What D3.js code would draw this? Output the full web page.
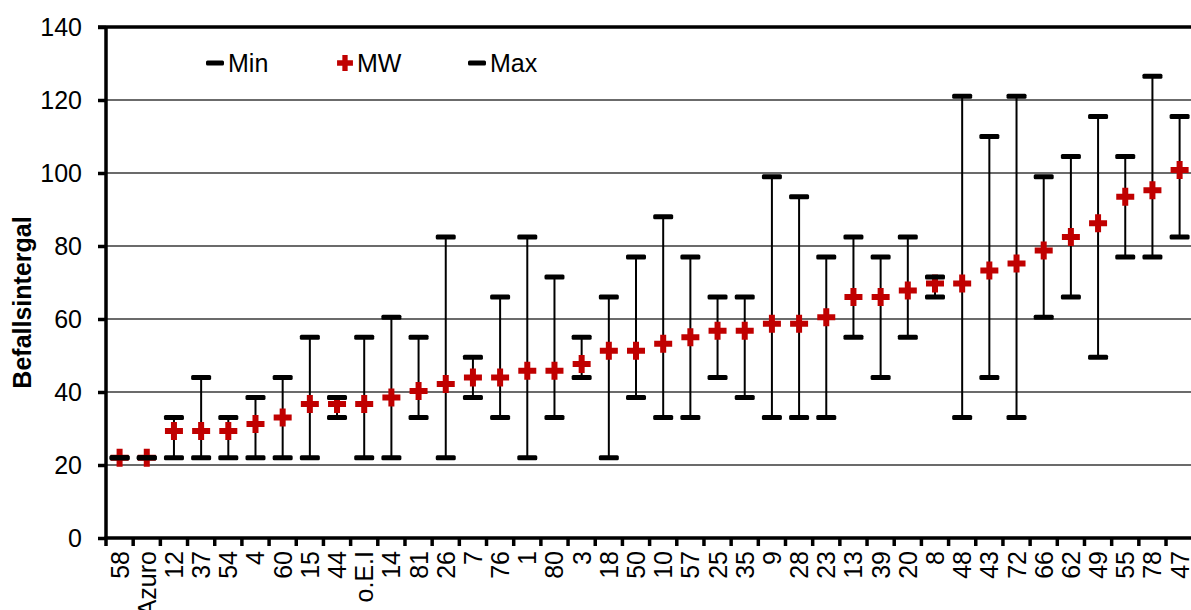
<!DOCTYPE html>
<html>
<head>
<meta charset="utf-8">
<script src="https://cdn.jsdelivr.net/npm/d3@7"></script>
<style>
  html, body { margin: 0; padding: 0; background: #fff; }
  svg { display: block; font-family: "Liberation Sans", Arial, sans-serif; }
</style>
</head>
<body>
<svg id="chart" width="1191" height="610"></svg>
<script>
// Sorten / Herkünfte, sortiert nach Mittelwert
const categories = ["58","Azuro","12","37","54","4","60","15","44","o.E.I","14","81","26","7","76","1","80","3","18","50","10","57","25","35","9","28","23","13","39","20","8","48","43","72","66","62","49","55","78","47"];
const minValues  = [22,22,22,22,22,22,22,22,33,22,22,33,22,38.5,33,22,33,44,22,38.5,33,33,44,38.5,33,33,33,55,44,55,66,33,44,33,60.5,66,49.5,77,77,82.5];
const meanValues = [22,22,29.3,29.3,29.3,31.2,33,36.7,36.7,36.7,38.5,40.3,42.2,44,44,45.8,45.8,47.7,51.3,51.3,53.2,55,56.8,56.8,58.7,58.7,60.5,66,66,67.8,69.7,69.7,73.3,75.2,78.8,82.5,86.2,93.5,95.3,100.8];
const maxValues  = [22,22,33,44,33,38.5,44,55,38.5,55,60.5,55,82.5,49.5,66,82.5,71.5,55,66,77,88,77,66,66,99,93.5,77,82.5,77,82.5,71.5,121,110,121,99,104.5,115.5,104.5,126.5,115.5];
const yTicks = [0,20,40,60,80,100,120,140];
const legendItems = [
  { key: "min",  label: "Min" },
  { key: "mean", label: "MW" },
  { key: "max",  label: "Max" }
];

const rows = categories.map((c, i) => ({ cat: c, min: minValues[i], mean: meanValues[i], max: maxValues[i] }));

const svg = d3.select("#chart");
const plotLeft = 106, plotTop = 27, plotBottom = 538, step = 27.18;
const red = "#c00000";

const x = d3.scaleBand().domain(categories).range([plotLeft, plotLeft + step * categories.length]).padding(0);
const y = d3.scaleLinear().domain([0, 140]).range([plotBottom, plotTop]);

// Gitternetzlinien
svg.append("g")
  .selectAll("line")
  .data(yTicks.filter(t => t > 0 && t < 140))
  .join("line")
  .attr("x1", plotLeft).attr("x2", x.range()[1])
  .attr("y1", d => y(d)).attr("y2", d => y(d))
  .attr("stroke", "#3a3a3a").attr("stroke-width", 1.4);

// oberer Rahmen
svg.append("line")
  .attr("x1", plotLeft - 8).attr("x2", x.range()[1])
  .attr("y1", y(140)).attr("y2", y(140))
  .attr("stroke", "#000").attr("stroke-width", 3.5);

// y-Achse
const yAxis = svg.append("g")
  .attr("transform", `translate(${plotLeft},0)`)
  .call(d3.axisLeft(y).tickValues(yTicks).tickSize(8).tickPadding(16));
yAxis.select(".domain").attr("stroke", "#000").attr("stroke-width", 3.5)
  .attr("d", `M0,${y(140)}V${y(0)}`);
yAxis.selectAll(".tick line").attr("stroke", "#000").attr("stroke-width", 3.5);
yAxis.selectAll(".tick text")
  .attr("font-size", 25).attr("fill", "#000")
  .attr("font-family", "'Liberation Sans', Arial, sans-serif");

// x-Achse: Beschriftungen
const xAxis = svg.append("g")
  .attr("transform", `translate(0,${plotBottom})`)
  .call(d3.axisBottom(x).tickSize(0));
xAxis.select(".domain").remove();
xAxis.selectAll(".tick text")
  .attr("font-size", 25).attr("fill", "#000")
  .attr("font-family", "'Liberation Sans', Arial, sans-serif")
  .attr("transform", "rotate(-90)")
  .attr("text-anchor", "end")
  .attr("x", -13).attr("y", 0).attr("dy", "0.36em");

// x-Achse: Linie und Teilstriche zwischen den Kategorien
svg.append("line")
  .attr("x1", plotLeft - 1.5).attr("x2", x.range()[1])
  .attr("y1", plotBottom).attr("y2", plotBottom)
  .attr("stroke", "#000").attr("stroke-width", 3.5);
svg.append("g")
  .selectAll("line")
  .data(categories.map(c => x(c)).concat([x.range()[1]]))
  .join("line")
  .attr("x1", d => d).attr("x2", d => d)
  .attr("y1", plotBottom).attr("y2", plotBottom + 8)
  .attr("stroke", "#000").attr("stroke-width", 3.5);

const cx = d => x(d.cat) + x.bandwidth() / 2;
const capW = 20, capH = 5;
const cross = d3.symbol().type(d3.symbolCross).size(180);

// Spannweite Min–Max
svg.append("g")
  .selectAll("line")
  .data(rows)
  .join("line")
  .attr("x1", cx).attr("x2", cx)
  .attr("y1", d => y(d.min)).attr("y2", d => y(d.max))
  .attr("stroke", "#000").attr("stroke-width", 2);

// Mittelwert
svg.append("g")
  .selectAll("path")
  .data(rows)
  .join("path")
  .attr("d", cross)
  .attr("transform", d => `translate(${cx(d)},${y(d.mean)})`)
  .attr("fill", red);

// Min- und Max-Markierungen
const caps = svg.append("g");
["min", "max"].forEach(k => {
  caps.append("g")
    .selectAll("rect")
    .data(rows)
    .join("rect")
    .attr("x", d => cx(d) - capW / 2)
    .attr("y", d => y(d[k]) - capH / 2)
    .attr("width", capW).attr("height", capH)
    .attr("rx", 1.5)
    .attr("fill", "#000");
});

// y-Achsentitel
svg.append("text")
  .attr("transform", `translate(31,${(y(0) + y(140)) / 2 + 20}) rotate(-90)`)
  .attr("text-anchor", "middle")
  .attr("font-size", 25).attr("font-weight", "bold").attr("fill", "#000")
  .text("Befallsintergal");

// Legende
const legendX = [206, 337, 468];
const legend = svg.append("g");
legendItems.forEach((item, i) => {
  const g = legend.append("g").attr("transform", `translate(${legendX[i]},63)`);
  if (item.key === "mean") {
    g.append("path")
      .attr("d", d3.symbol().type(d3.symbolCross).size(140)())
      .attr("transform", "translate(8,0)")
      .attr("fill", red);
    g.append("text").attr("x", 20).attr("y", 9)
      .attr("font-size", 25).attr("fill", "#000").text(item.label);
  } else {
    g.append("rect").attr("x", 0).attr("y", -2.5).attr("width", 18).attr("height", 5)
      .attr("rx", 1.5).attr("fill", "#000");
    g.append("text").attr("x", 22).attr("y", 9)
      .attr("font-size", 25).attr("fill", "#000").text(item.label);
  }
});
</script>
</body>
</html>
